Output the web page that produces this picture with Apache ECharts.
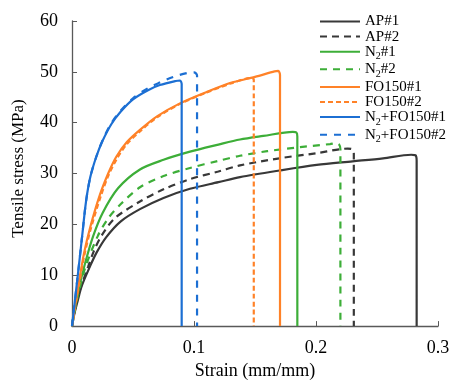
<!DOCTYPE html>
<html>
<head>
<meta charset="utf-8">
<script src="https://cdn.jsdelivr.net/npm/echarts@6/dist/echarts.min.js"></script>
<style>
  html, body { margin: 0; padding: 0; background: #fff; }
  #chart { width: 453px; height: 385px; }
</style>
</head>
<body>
<div id="chart"></div>
<script>
// [strain (mm/mm), stress (MPa)]
const ap1 = [[0, 0], [0.002, 2.5], [0.0049, 5.2], [0.008, 7.9], [0.0145, 11.6], [0.02, 14.4], [0.0281, 17.5], [0.04, 20.6], [0.0557, 23.0], [0.075, 25.2], [0.0967, 27.0], [0.12, 28.3], [0.1377, 29.3], [0.17, 30.6], [0.2006, 31.7], [0.23, 32.4], [0.255, 33.0], [0.278, 33.7], [0.2815, 33.6], [0.2825, 32.5], [0.2825, 0]];
const ap2 = [[0, 0], [0.002, 2.7], [0.005, 6.0], [0.0131, 11.6], [0.018, 14.8], [0.024, 17.7], [0.035, 21.2], [0.0557, 24.5], [0.075, 26.9], [0.0967, 28.9], [0.12, 30.4], [0.1377, 31.6], [0.17, 33.0], [0.2006, 34.0], [0.226, 34.9], [0.2295, 34.8], [0.231, 34.0], [0.231, 0]];
const n2a = [[0, 0], [0.002, 3.0], [0.0066, 8.4], [0.011, 12.6], [0.0172, 17.6], [0.025, 22.2], [0.0377, 27.1], [0.0557, 30.8], [0.075, 32.7], [0.0967, 34.3], [0.12, 35.7], [0.1377, 36.7], [0.1568, 37.4], [0.181, 38.2], [0.1838, 38.1], [0.1847, 37.3], [0.1847, 0]];
const n2b = [[0, 0], [0.002, 2.8], [0.005, 6.2], [0.011, 11.6], [0.0213, 17.8], [0.03, 21.3], [0.04, 24.0], [0.0557, 27.3], [0.075, 29.5], [0.0967, 31.1], [0.12, 32.5], [0.1377, 33.5], [0.16, 34.4], [0.187, 35.2], [0.2115, 35.8], [0.216, 36.0], [0.219, 35.7], [0.22, 34.8], [0.22, 0]];
const fo1 = [[0, 0], [0.002, 3.2], [0.0055, 8.4], [0.01, 14.5], [0.015, 19.5], [0.0227, 25.7], [0.03, 30.2], [0.0363, 33.3], [0.045, 36.2], [0.0557, 38.6], [0.07, 41.3], [0.0885, 43.8], [0.11, 46.0], [0.1295, 47.8], [0.15, 49.0], [0.166, 50.1], [0.169, 50.2], [0.1705, 49.4], [0.1705, 0]];
const fo2 = [[0, 0], [0.002, 3.0], [0.006, 8.4], [0.01, 13.8], [0.015, 18.8], [0.0235, 25.5], [0.03, 29.7], [0.037, 33.0], [0.045, 35.8], [0.0557, 38.3], [0.07, 41.1], [0.0885, 43.7], [0.11, 45.9], [0.13, 47.7], [0.147, 48.8], [0.149, 48.5], [0.149, 0]];
const nf1 = [[0, 0], [0.004, 8.4], [0.008, 17.0], [0.0115, 24.5], [0.015, 29.3], [0.0199, 33.3], [0.025, 36.4], [0.0322, 39.7], [0.04, 42.2], [0.05, 44.6], [0.0623, 46.4], [0.072, 47.4], [0.085, 48.2], [0.0885, 48.3], [0.0899, 47.6], [0.0899, 0]];
const nf2 = [[0, 0], [0.004, 8.4], [0.008, 17.0], [0.0115, 24.5], [0.015, 29.3], [0.0199, 33.3], [0.025, 36.5], [0.0322, 39.9], [0.04, 42.4], [0.05, 44.8], [0.0623, 46.8], [0.072, 47.9], [0.083, 49.0], [0.095, 49.8], [0.1, 49.9], [0.1025, 49.3], [0.1025, 0]];

const seriesNames = ['AP#1', 'AP#2', 'N₂#1', 'N₂#2', 'FO150#1', 'FO150#2', 'N₂+FO150#1', 'N₂+FO150#2'];
const seriesData = [ap1, ap2, n2a, n2b, fo1, fo2, nf1, nf2];
const colors = ['#383838', '#383838', '#3dae38', '#3dae38', '#ff8228', '#ff8228', '#1c6fd3', '#1c6fd3'];
const dashes = ['solid', [7, 5], 'solid', [7, 6], 'solid', [5, 3], 'solid', [7, 7]];

const font = 'Liberation Serif';

const chart = echarts.init(document.getElementById('chart'));

chart.setOption({
  animation: false,
  textStyle: { fontFamily: font },
  grid: { left: 72, right: 15, top: 21, bottom: 51 },
  legend: {
    orient: 'vertical',
    left: 319,
    top: 14,
    padding: 0,
    itemWidth: 40,
    itemHeight: 14,
    itemGap: 0.1,
    itemStyle: { opacity: 0 },
    formatter: (name) => name.replace('₂', '{s|2}'),
    textStyle: {
      fontFamily: font, fontSize: 15, color: '#000', lineHeight: 14,
      rich: { s: { fontFamily: font, fontSize: 10, color: '#000', verticalAlign: 'top', lineHeight: 7, padding: [7, 0, 0, 0] } },
    },
    data: seriesNames,
  },
  xAxis: {
    type: 'value',
    min: 0,
    max: 0.3,
    interval: 0.1,
    name: 'Strain (mm/mm)',
    nameLocation: 'middle',
    nameGap: 34,
    nameTextStyle: { fontFamily: font, fontSize: 18, color: '#000' },
    axisLine: { lineStyle: { color: '#595959', width: 1.3 } },
    axisTick: { inside: true, length: 5, lineStyle: { color: '#595959' } },
    axisLabel: { margin: 13, fontFamily: font, fontSize: 18, color: '#000' },
    splitLine: { show: false },
  },
  yAxis: {
    type: 'value',
    min: 0,
    max: 60,
    interval: 10,
    name: 'Tensile stress (MPa)',
    nameLocation: 'middle',
    nameGap: 45,
    nameTextStyle: { fontFamily: font, fontSize: 17, color: '#000', padding: [0, 0, 0, 10] },
    axisLine: { show: true, lineStyle: { color: '#595959', width: 1.3 } },
    axisTick: { show: true, inside: true, length: 5, lineStyle: { color: '#595959' } },
    axisLabel: { margin: 14, fontFamily: font, fontSize: 18, color: '#000' },
    splitLine: { show: false },
  },
  series: seriesNames.map((name, i) => ({
    name,
    type: 'line',
    data: seriesData[i],
    symbol: 'none',
    smooth: 0.3,
    color: colors[i],
    lineStyle: { color: colors[i], width: 2.2, type: dashes[i] },
  })),
});
</script>
</body>
</html>
